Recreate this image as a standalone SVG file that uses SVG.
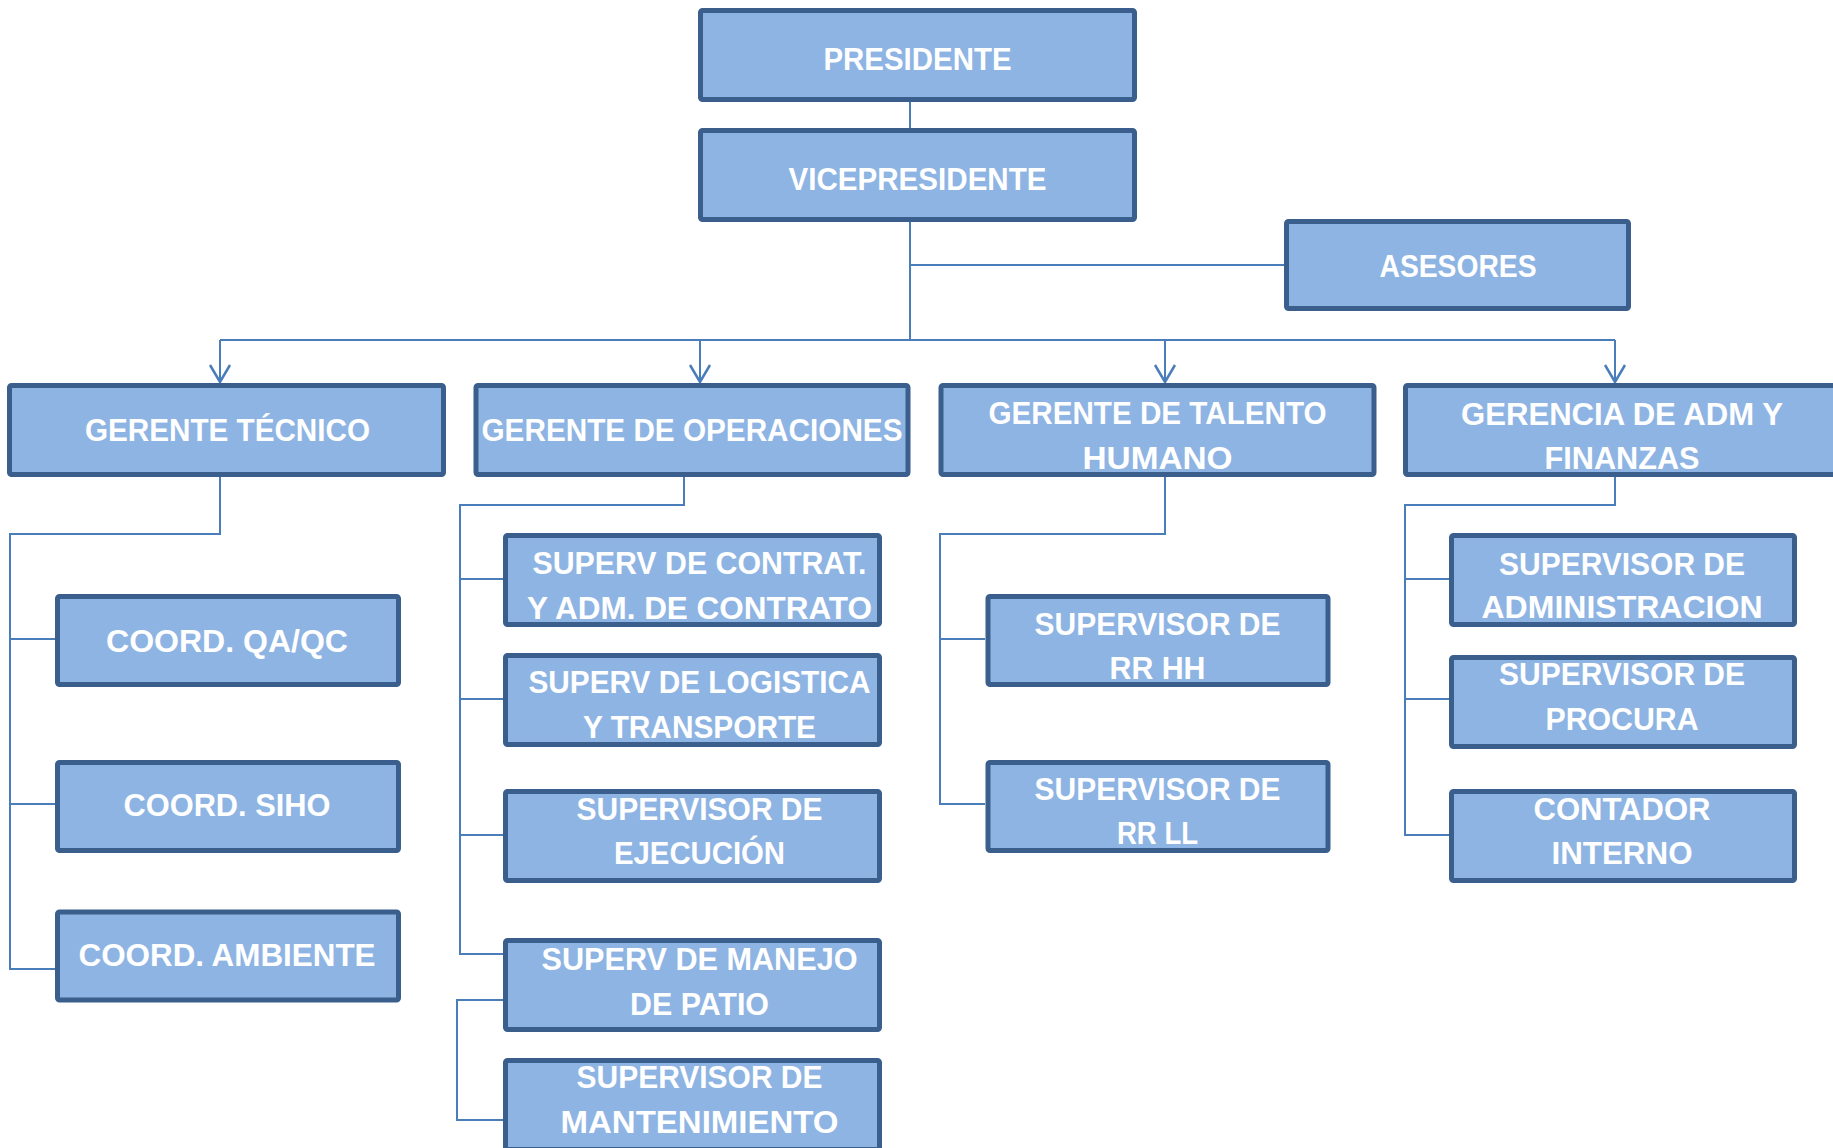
<svg xmlns="http://www.w3.org/2000/svg" width="1833" height="1148" viewBox="0 0 1833 1148">
<style>
.box{fill:#8EB4E3;stroke:#3B5F8C;stroke-width:5;}
.t{font-family:"Liberation Sans",Arial,sans-serif;font-weight:bold;font-size:32px;fill:#FFFFFF;text-anchor:middle;}
.c{fill:none;stroke:#4A7EBB;stroke-width:2;}
</style>
<defs>
<marker id="arr" markerUnits="userSpaceOnUse" markerWidth="22" markerHeight="24" viewBox="0 -2 20 24" refX="17" refY="10" orient="auto">
<path d="M0,0 L17,10 L0,20" fill="none" stroke="#4A7EBB" stroke-width="2.5"/>
</marker>
</defs>
<rect width="1833" height="1148" fill="#FFFFFF"/>
<g id="connectors">
<path class="c" d="M910,102 V128"/>
<path class="c" d="M910,222 V340"/>
<path class="c" d="M910,265 H1284"/>
<path class="c" d="M220,340 H1615"/>
<path class="c" d="M220,340 V382" marker-end="url(#arr)"/>
<path class="c" d="M700,340 V382" marker-end="url(#arr)"/>
<path class="c" d="M1165,340 V382" marker-end="url(#arr)"/>
<path class="c" d="M1615,340 V382" marker-end="url(#arr)"/>
<path class="c" d="M220,477 V534 H10 V969 H55"/>
<path class="c" d="M10,639 H55 M10,804 H55"/>
<path class="c" d="M684,477 V505 H460 V954 H503"/>
<path class="c" d="M460,579 H503 M460,699 H503 M460,835 H503"/>
<path class="c" d="M503,1000 H457 V1120 H503"/>
<path class="c" d="M1165,477 V534 H940 V804 H985"/>
<path class="c" d="M940,639 H985"/>
<path class="c" d="M1615,477 V505 H1405 V835 H1449"/>
<path class="c" d="M1405,579 H1449 M1405,699 H1449"/>
</g>
<g id="presidente"><rect class="box" x="700.5" y="10.5" width="434" height="89" rx="2"/><text class="t" x="917.5" y="70" textLength="188" lengthAdjust="spacingAndGlyphs">PRESIDENTE</text></g>
<g id="vicepresidente"><rect class="box" x="700.5" y="130.5" width="434" height="89" rx="2"/><text class="t" x="917.5" y="190" textLength="258" lengthAdjust="spacingAndGlyphs">VICEPRESIDENTE</text></g>
<g id="asesores"><rect class="box" x="1286.5" y="221.5" width="342" height="87" rx="2"/><text class="t" x="1458" y="277" textLength="157" lengthAdjust="spacingAndGlyphs">ASESORES</text></g>
<g id="gerente-tecnico"><rect class="box" x="9.5" y="385.5" width="434" height="89" rx="2"/><text class="t" x="227.5" y="441" textLength="285" lengthAdjust="spacingAndGlyphs">GERENTE TÉCNICO</text></g>
<g id="gerente-operaciones"><rect class="box" x="476" y="385.5" width="432" height="89" rx="2"/><text class="t" x="692" y="441" textLength="421" lengthAdjust="spacingAndGlyphs">GERENTE DE OPERACIONES</text></g>
<g id="gerente-talento"><rect class="box" x="941" y="385.5" width="433" height="89" rx="2"/><text class="t" x="1157.5" y="424" textLength="338" lengthAdjust="spacingAndGlyphs">GERENTE DE TALENTO</text><text class="t" x="1157.5" y="469" textLength="150" lengthAdjust="spacingAndGlyphs">HUMANO</text></g>
<g id="gerencia-adm"><rect class="box" x="1405.5" y="385.5" width="434" height="89" rx="2"/><text class="t" x="1622" y="425" textLength="322" lengthAdjust="spacingAndGlyphs">GERENCIA DE ADM Y</text><text class="t" x="1622" y="469" textLength="155" lengthAdjust="spacingAndGlyphs">FINANZAS</text></g>
<g id="coord-qaqc"><rect class="box" x="57.5" y="596.5" width="341" height="88" rx="2"/><text class="t" x="227" y="652" textLength="242" lengthAdjust="spacingAndGlyphs">COORD. QA/QC</text></g>
<g id="coord-siho"><rect class="box" x="57.5" y="762.5" width="341" height="88" rx="2"/><text class="t" x="227" y="816" textLength="207" lengthAdjust="spacingAndGlyphs">COORD. SIHO</text></g>
<g id="coord-ambiente"><rect class="box" x="57.5" y="912" width="341" height="88" rx="2"/><text class="t" x="227" y="966" textLength="297" lengthAdjust="spacingAndGlyphs">COORD. AMBIENTE</text></g>
<g id="superv-contrat"><rect class="box" x="505.5" y="535.5" width="374" height="89" rx="2"/><text class="t" x="699.5" y="574" textLength="334" lengthAdjust="spacingAndGlyphs">SUPERV DE CONTRAT.</text><text class="t" x="699.5" y="619" textLength="345" lengthAdjust="spacingAndGlyphs">Y ADM. DE CONTRATO</text></g>
<g id="superv-logistica"><rect class="box" x="505.5" y="655.5" width="374" height="89" rx="2"/><text class="t" x="699.5" y="693" textLength="342" lengthAdjust="spacingAndGlyphs">SUPERV DE LOGISTICA</text><text class="t" x="699.5" y="738" textLength="233" lengthAdjust="spacingAndGlyphs">Y TRANSPORTE</text></g>
<g id="superv-ejecucion"><rect class="box" x="505.5" y="791.5" width="374" height="89" rx="2"/><text class="t" x="699.5" y="820" textLength="246" lengthAdjust="spacingAndGlyphs">SUPERVISOR DE</text><text class="t" x="699.5" y="864" textLength="171" lengthAdjust="spacingAndGlyphs">EJECUCIÓN</text></g>
<g id="superv-patio"><rect class="box" x="505.5" y="940.5" width="374" height="89" rx="2"/><text class="t" x="699.5" y="970" textLength="316" lengthAdjust="spacingAndGlyphs">SUPERV DE MANEJO</text><text class="t" x="699.5" y="1015" textLength="139" lengthAdjust="spacingAndGlyphs">DE PATIO</text></g>
<g id="superv-mantenimiento"><rect class="box" x="505.5" y="1060.5" width="374" height="89" rx="2"/><text class="t" x="699.5" y="1088" textLength="246" lengthAdjust="spacingAndGlyphs">SUPERVISOR DE</text><text class="t" x="699.5" y="1133" textLength="278" lengthAdjust="spacingAndGlyphs">MANTENIMIENTO</text></g>
<g id="superv-rrhh"><rect class="box" x="988" y="596.5" width="340" height="88" rx="2"/><text class="t" x="1157.5" y="635" textLength="246" lengthAdjust="spacingAndGlyphs">SUPERVISOR DE</text><text class="t" x="1157.5" y="679" textLength="96" lengthAdjust="spacingAndGlyphs">RR HH</text></g>
<g id="superv-rrll"><rect class="box" x="988" y="762.5" width="340" height="88" rx="2"/><text class="t" x="1157.5" y="800" textLength="246" lengthAdjust="spacingAndGlyphs">SUPERVISOR DE</text><text class="t" x="1157.5" y="844" textLength="81" lengthAdjust="spacingAndGlyphs">RR LL</text></g>
<g id="superv-administracion"><rect class="box" x="1451.5" y="535.5" width="343" height="89" rx="2"/><text class="t" x="1622" y="575" textLength="246" lengthAdjust="spacingAndGlyphs">SUPERVISOR DE</text><text class="t" x="1622" y="618" textLength="281" lengthAdjust="spacingAndGlyphs">ADMINISTRACION</text></g>
<g id="superv-procura"><rect class="box" x="1451.5" y="657.5" width="343" height="89" rx="2"/><text class="t" x="1622" y="685" textLength="246" lengthAdjust="spacingAndGlyphs">SUPERVISOR DE</text><text class="t" x="1622" y="730" textLength="153" lengthAdjust="spacingAndGlyphs">PROCURA</text></g>
<g id="contador-interno"><rect class="box" x="1451.5" y="791.5" width="343" height="89" rx="2"/><text class="t" x="1622" y="820" textLength="177" lengthAdjust="spacingAndGlyphs">CONTADOR</text><text class="t" x="1622" y="864" textLength="141" lengthAdjust="spacingAndGlyphs">INTERNO</text></g>
</svg>
